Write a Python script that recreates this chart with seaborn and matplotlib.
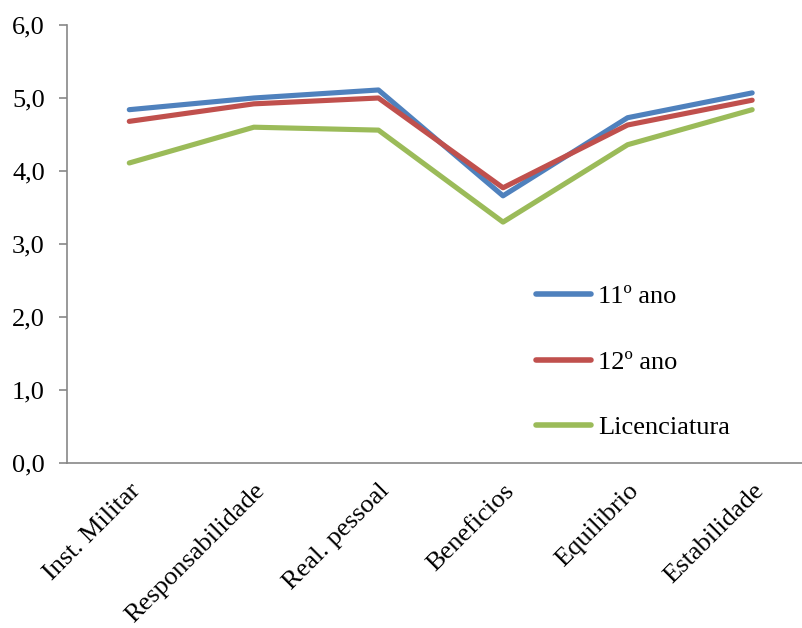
import matplotlib
matplotlib.use("Agg")
import matplotlib.pyplot as plt
import seaborn as sns
import pandas as pd
import numpy as np

categories = ["Inst. Militar", "Responsabilidade", "Real. pessoal", "Beneficios", "Equilibrio", "Estabilidade"]
ano11 = [4.84, 5.00, 5.11, 3.66, 4.73, 5.07]
ano12 = [4.68, 4.92, 5.00, 3.77, 4.63, 4.97]
licenciatura = [4.11, 4.60, 4.56, 3.30, 4.36, 4.84]
series_names = ["11º ano", "12º ano", "Licenciatura"]
colors = ["#4F81BD", "#C0504D", "#9BBB59"]
yticks = [0, 1, 2, 3, 4, 5, 6]

sns.set_theme(style="white")
plt.rcParams['font.family'] = ['Liberation Serif', 'DejaVu Serif']
plt.rcParams['text.color'] = 'black'
plt.rcParams['xtick.color'] = 'black'
plt.rcParams['ytick.color'] = 'black'

rows = []
for name, vals in zip(series_names, [ano11, ano12, licenciatura]):
    for c, v in zip(categories, vals):
        rows.append({"Categoria": c, "Valor": v, "Série": name})
df = pd.DataFrame(rows)

fig = plt.figure(figsize=(8.03, 6.28), dpi=100)
ax = fig.add_axes([67/803, 1-463/628, (802-67)/803, (463-25)/628])

sns.lineplot(data=df, x="Categoria", y="Valor", hue="Série", palette=colors,
             sort=False, linewidth=3.7, ax=ax, legend=True)
for ln in ax.get_lines():
    ln.set_solid_capstyle("round")
    ln.set_solid_joinstyle("round")

ax.set_ylim(0, 6)
ax.set_xlim(-0.5, 5.4)
ax.set_yticks(yticks)
ax.set_yticklabels([f"{t:.1f}".replace(".", ",") for t in yticks], fontsize=19, color="black")
ax.set_xticks(range(len(categories)))
ax.set_xticklabels(categories, fontsize=19, rotation=45, ha="right", rotation_mode="anchor", color="black")
ax.tick_params(axis="x", which="major", length=0, pad=12)
ax.set_xticks(np.arange(-0.5, 5.0, 1.0), minor=True)
ax.tick_params(axis="x", which="minor", length=6, color="#878787", width=1.2, direction="out")
ax.tick_params(axis="y", length=6, color="#878787", labelcolor="black", width=1.2, direction="out", left=True, pad=10)
ax.set_xlabel("")
ax.set_ylabel("")
for s in ["top", "right"]:
    ax.spines[s].set_visible(False)
for s in ["left", "bottom"]:
    ax.spines[s].set_color("#878787")
    ax.spines[s].set_linewidth(1.2)

handles, labels = ax.get_legend_handles_labels()
for h in handles:
    h.set_linewidth(4)
    h.set_solid_capstyle("round")
leg = ax.legend(handles, labels, loc="center left", bbox_to_anchor=(536/803, 1-362/628),
                bbox_transform=fig.transFigure, frameon=False, fontsize=19,
                handlelength=2.1, handletextpad=0.25, labelspacing=1.6,
                borderpad=0, borderaxespad=0)
for t in leg.get_texts():
    t.set_color("black")

fig.savefig("out.png", dpi=100)
